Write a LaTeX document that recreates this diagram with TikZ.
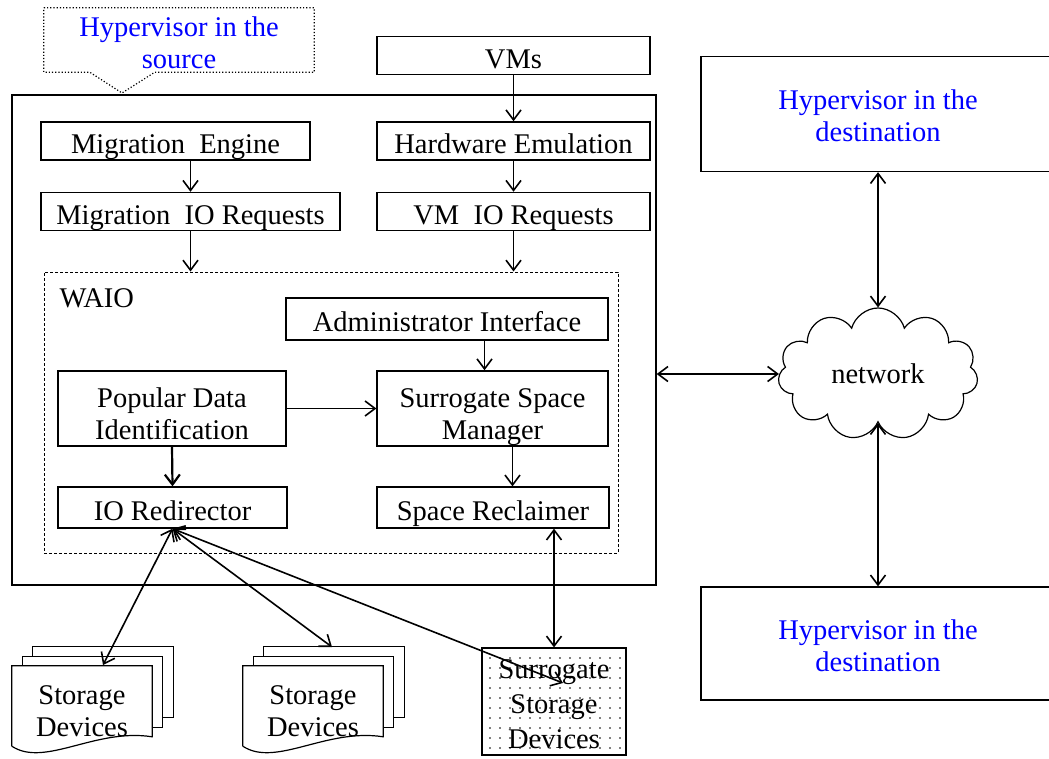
\documentclass[tikz,border=0pt]{standalone}
\usepackage{fontspec}
\setmainfont{Liberation Serif}
\usepackage{xcolor}
\usetikzlibrary{arrows.meta, calc, shapes.symbols, patterns.meta, backgrounds}

\tikzset{
  box/.style={draw, line width=1.3pt, rectangle, inner sep=0pt, align=center, text height=32pt, text depth=6.2pt},
  twoline/.style={text height=69pt},
  hyp/.style={box, text=blue, text height=62pt},
  link/.style={line width=1.6pt, -{Straight Barb[length=10pt, width=15pt]}},
  both/.style={line width=1.6pt, {Straight Barb[length=10pt, width=15pt]}-{Straight Barb[length=10pt, width=15pt]}},
  sheet/.style={draw, line width=1.2pt, fill=white}
}

\begin{document}
\begin{tikzpicture}[x=1pt, y=-1pt, font=\fontsize{28.5}{32}\selectfont]
  \useasboundingbox (0,0) rectangle (1049,758);

  % hypervisor in the source
  \node[box] (outer) at (334,340) [minimum width=644pt, minimum height=490pt] {};
  \node[align=center, text=blue, text height=57pt, minimum width=270pt, minimum height=64pt, inner sep=0pt] (src) at (179,40) {Hypervisor in the\\source};
  \draw[line width=1.2pt, dotted] (src.north west) -- (src.north east) -- (src.south east)
     -- ($(src.south west)+(111,0)$) -- (122,93) -- ($(src.south west)+(46,0)$) -- (src.south west) -- cycle;

  \node[box] (vms) at (513.5,55.5) [minimum width=273pt, minimum height=35pt] {VMs};
  \node[box] (me) at (175.5,141) [minimum width=269pt, minimum height=38pt] {Migration\ \ Engine};
  \node[box] (hw) at (513.5,141) [minimum width=273pt, minimum height=38pt] {Hardware Emulation};
  \node[box] (mior) at (190.5,211.5) [minimum width=299pt, minimum height=37pt] {Migration\ \ IO Requests};
  \node[box] (vmior) at (513.5,211.5) [minimum width=273pt, minimum height=37pt] {VM\ \ IO Requests};

  % WAIO
  \node[draw, line width=1pt, dash pattern=on 3pt off 2pt, minimum width=574pt, minimum height=281pt] (waio) at (331,412.5) {};
  \node[anchor=base west] (waiolbl) at (56,307) {WAIO};
  \node[box] (admin) at (447,319) [minimum width=322pt, minimum height=42pt] {Administrator Interface};
  \node[box, twoline] (pdi) at (172,408.5) [minimum width=228pt, minimum height=73pt] {Popular Data\\Identification};
  \node[box, twoline] (ssm) at (492.5,408.5) [minimum width=231pt, minimum height=73pt] {Surrogate Space\\Manager};
  \node[box] (ior) at (172.5,507.5) [minimum width=229pt, minimum height=41pt] {IO Redirector};
  \node[box] (sr) at (493,507.5) [minimum width=232pt, minimum height=41pt] {Space Reclaimer};

  % storage
  \node[align=center, text height=61pt, minimum width=140pt, minimum height=80pt, inner sep=0pt] (sd1) at (82,706) {Storage\\Devices};
  \node[align=center, text height=61pt, minimum width=140pt, minimum height=80pt, inner sep=0pt] (sd2) at (313,706) {Storage\\Devices};
  \node[box, line width=1.2pt, pattern={Dots[distance=10pt, radius=0.9pt]}, minimum width=144pt, minimum height=107pt,
        text height=100pt, font=\fontsize{28.5}{35}\selectfont] (sur) at (554,701.5) {Surrogate\\Storage\\Devices};

  \begin{scope}[on background layer]
    \foreach \s in {sd1,sd2} {
      \foreach \k in {2,1}
        \draw[sheet] ($(\s.north west)+(10.5*\k,-9.5*\k)$) rectangle ($(\s.north east)+(10.5*\k,-9.5*\k+71)$);
      \draw[sheet] (\s.south west) -- (\s.north west) -- (\s.north east) -- ($(\s.north east)+(0,71)$)
         .. controls ($(\s.north east)+(-57,62)$) and ($(\s.north west)+(33,102)$) .. (\s.south west);
    }
  \end{scope}

  % hypervisors in the destination
  \node[hyp] (dst1) at (878,114) [minimum width=354pt, minimum height=115pt] {Hypervisor in the\\destination};
  \node[hyp] (dst2) at (878,643.5) [minimum width=354pt, minimum height=113pt] {Hypervisor in the\\destination};
  \node[cloud, draw, line width=1.2pt, cloud puffs=11, aspect=1.6, minimum width=200pt, minimum height=132pt] (net) at (878,374) {network};

  % arrows
  \draw[link] (vms) -- (hw);
  \draw[link] (me.south -| mior) -- (mior.north);
  \draw[link] (hw) -- (vmior);
  \draw[link] (mior.south) -- (mior.south |- waio.north);
  \draw[link] (vmior.south) -- (vmior.south |- waio.north);
  \draw[link] ([xshift=-8pt]ssm.north |- admin.south) -- ([xshift=-8pt]ssm.north);
  \draw[link] (pdi.east) -- (pdi.east -| ssm.west);
  \draw[link, line width=2.2pt] (pdi.south) -- (ior.north);
  \draw[link] ([xshift=20pt]ssm.south) -- ([xshift=20pt]ssm.south |- sr.north);

  \coordinate (sd1top) at (103,665);
  \coordinate (sd2top) at (332,647);
  \coordinate (surin) at (563,683);
  \draw[both] (ior.south) -- (sd1top);
  \draw[both] (ior.south) -- (sd2top);
  \draw[both] (ior.south) -- (surin);
  \draw[both] (sr.south -| sur) -- (sur.north);

  \draw[both] (outer.east |- net.west) -- (net.west);
  \draw[both] (dst1.south) -- (net.north);
  \draw[both] (net.south) -- (dst2.north);
\end{tikzpicture}
\end{document}
